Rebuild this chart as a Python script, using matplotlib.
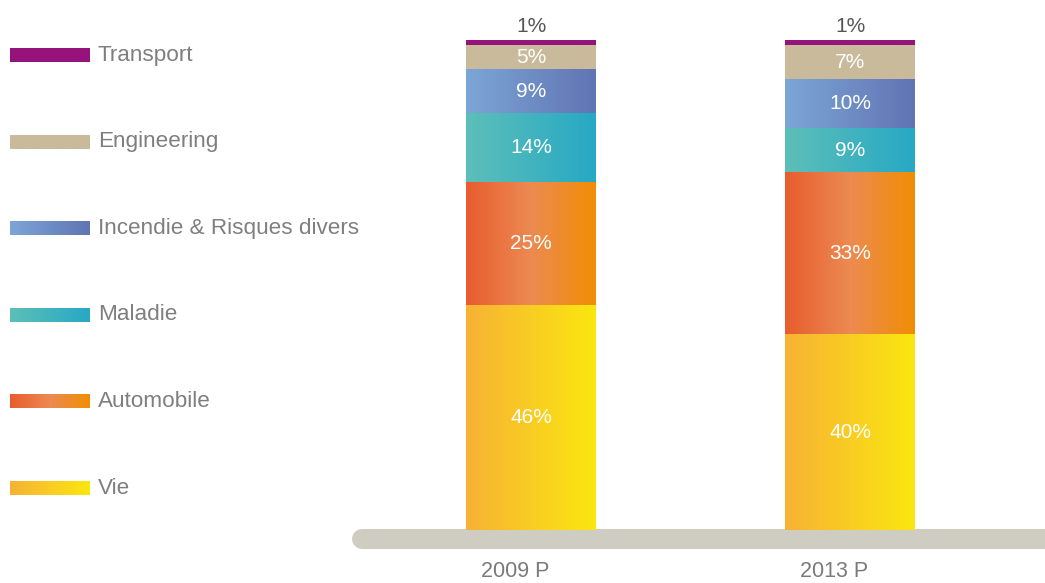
import numpy as np
import matplotlib.pyplot as plt
from matplotlib.colors import LinearSegmentedColormap

# Data
years = ["2009 P", "2013 P"]
segments = ["Vie", "Automobile", "Maladie", "Incendie & Risques divers", "Engineering", "Transport"]
share_2009 = [46, 25, 14, 9, 5, 1]
share_2013 = [40, 33, 9, 10, 7, 1]
shares = [share_2009, share_2013]

# left -> right gradient stops per segment
gradients = {
    "Vie": ["#f7b236", "#fbe70f"],
    "Automobile": ["#e85c2f", "#ec8a52", "#f18e04"],
    "Maladie": ["#5dbfb8", "#27a8c5"],
    "Incendie & Risques divers": ["#7ca6d7", "#6174b3"],
    "Engineering": ["#c9ba9b", "#c9ba9b"],
    "Transport": ["#95137b", "#95137b"],
}

plt.rcParams['font.family'] = ['Liberation Sans', 'DejaVu Sans']

fig = plt.figure(figsize=(10.45, 5.83), dpi=100)
ramp = np.linspace(0, 1, 256).reshape(1, -1)

# Bars
ax = fig.add_axes([340 / 1045, 23 / 583, 705 / 1045, 550 / 583])
width = 0.4075
for i, vals in enumerate(shares):
    bottom = 0
    for seg, v in zip(segments, vals):
        cmap = LinearSegmentedColormap.from_list(seg, gradients[seg])
        ax.imshow(ramp, cmap=cmap, aspect='auto', zorder=3,
                  extent=[i - width / 2, i + width / 2, bottom, bottom + v])
        if seg == "Transport":
            ax.text(i, bottom + v + 2.8, f"{v}%", ha='center', va='center',
                    fontsize=15, color='#555555')
        else:
            ax.text(i, bottom + v / 2, f"{v}%", ha='center', va='center',
                    fontsize=15, color='white', zorder=4)
        bottom += v
    ax.text(i - 0.05, -9.6, years[i], ha='center', va='baseline',
            fontsize=15.5, color='#7a7a7a')

# baseline
ax.plot([-0.53, 2.0], [-1.9, -1.9], color='#cfccc1', linewidth=14.4,
        solid_capstyle='round', zorder=2)
ax.set_xlim(-0.599, 1.611)
ax.set_ylim(-6.12, 106.12)
ax.axis('off')

# Legend
lax = fig.add_axes([0, 0, 380 / 1045, 1])
for k, seg in enumerate(reversed(segments)):
    yc = 55 + k * 86.6
    cmap = LinearSegmentedColormap.from_list(seg, gradients[seg])
    lax.imshow(ramp, cmap=cmap, aspect='auto', extent=[10, 90, yc + 7, yc - 7])
    lax.text(98, yc, seg, ha='left', va='center', fontsize=16.2,
             color='#7f7f7f')
lax.set_xlim(0, 380)
lax.set_ylim(583, 0)
lax.axis('off')

plt.savefig("out.png", dpi=100)
